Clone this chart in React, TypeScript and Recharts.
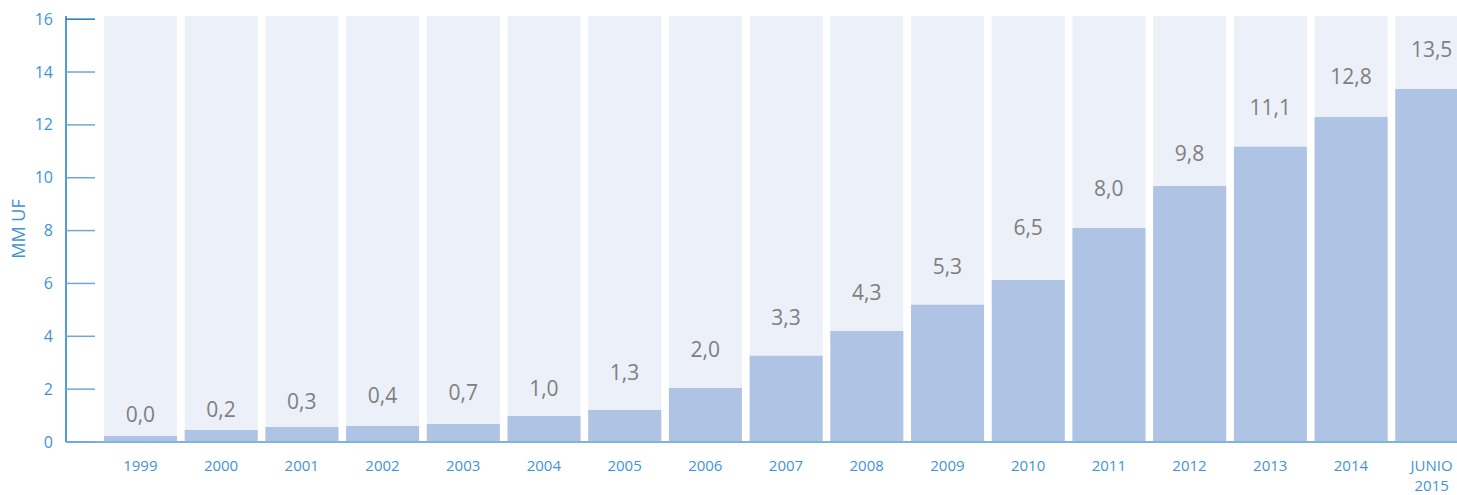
import { ComposedChart, Bar, Line, XAxis, YAxis, LabelList } from "recharts";

const categories = [
  "1999", "2000", "2001", "2002", "2003", "2004", "2005", "2006", "2007",
  "2008", "2009", "2010", "2011", "2012", "2013", "2014", "JUNIO 2015",
];
const valueLabels = [
  "0,0", "0,2", "0,3", "0,4", "0,7", "1,0", "1,3", "2,0", "3,3",
  "4,3", "5,3", "6,5", "8,0", "9,8", "11,1", "12,8", "13,5",
];
// bar heights as drawn (MM UF)
const barHeights = [
  0.23, 0.45, 0.57, 0.61, 0.68, 0.98, 1.21, 2.04, 3.26,
  4.2, 5.19, 6.13, 8.1, 9.69, 11.17, 12.3, 13.36,
];
// where each value label sits (MM UF)
const labelAt = [
  1.02, 1.21, 1.51, 1.74, 1.85, 2.01, 2.61, 3.48, 4.69,
  5.64, 6.62, 8.1, 9.58, 10.9, 12.64, 13.82, 14.84,
];
const yTicks = [0, 2, 4, 6, 8, 10, 12, 14, 16];

const data = categories.map((c, i) => ({
  year: c,
  value: barHeights[i],
  labelAt: labelAt[i],
  label: valueLabels[i],
}));

const FONT = "'Open Sans', 'Noto Sans', sans-serif";

const YTick = (props: any) => {
  const { x, y, payload } = props;
  const top = payload.value === 16;
  return (
    <g>
      <line x1={x} x2={x + 29} y1={y} y2={y} stroke={top ? "#1b7cc2" : "#6ea8d7"} strokeWidth={1.5} />
      <text x={x - 13} y={y} dy="0.35em" textAnchor="end" fill="#3f94d6" fontSize={16} fontFamily={FONT}>
        {payload.value}
      </text>
    </g>
  );
};

const XTick = (props: any) => {
  const { x, y, payload } = props;
  const lines = String(payload.value).split(" ");
  return (
    <g>
      {lines.map((l, i) => (
        <text key={i} x={x} y={y + 29 + i * 20} textAnchor="middle" fill="#3f94d6" fontSize={15} fontFamily={FONT}>
          {l}
        </text>
      ))}
    </g>
  );
};

const ValueLabel = (props: any) => {
  const { x, y, value } = props;
  return (
    <text x={x} y={y} dy="0.35em" textAnchor="middle" fill="#7f7f7f" fontSize={21} fontFamily={FONT}>
      {value}
    </text>
  );
};

const AxisTitle = (props: any) => {
  const { viewBox } = props;
  const cx = viewBox.x + 18;
  const cy = viewBox.y + viewBox.height / 2;
  return (
    <text
      x={cx}
      y={cy}
      transform={`rotate(-90 ${cx} ${cy})`}
      textAnchor="middle"
      dominantBaseline="central"
      fill="#3f94d6"
      fontSize={18}
      fontFamily={FONT}
    >
      MM UF
    </text>
  );
};

export default function App() {
  return (
    <div style={{ position: "fixed", left: 0, top: 0, width: 1457, height: 495, overflow: "hidden", background: "#fff" }}>
      <ComposedChart width={1472} height={495} data={data} margin={{ top: 16, right: 0, bottom: 0, left: 0 }}>
        <XAxis
          dataKey="year"
          padding={{ left: 34, right: 0 }}
          axisLine={{ stroke: "#7fb5dd", strokeWidth: 2 }}
          tickLine={false}
          tickSize={0}
          tickMargin={0}
          height={53}
          interval={0}
          tick={<XTick />}
        />
        <YAxis
          width={66}
          domain={[0, 16.12]}
          ticks={yTicks}
          allowDecimals={false}
          axisLine={{ stroke: "#1b7cc2", strokeWidth: 1.5 }}
          tickLine={false}
          tickSize={0}
          tickMargin={0}
          tick={<YTick />}
          label={<AxisTitle />}
        />
        <Bar
          dataKey="value"
          barSize={73}
          fill="#afc3e5"
          background={{ fill: "#ecf0f8" }}
          isAnimationActive={false}
        />
        <Line
          dataKey="labelAt"
          stroke="none"
          dot={false}
          activeDot={false}
          isAnimationActive={false}
        >
          <LabelList dataKey="label" content={<ValueLabel />} />
        </Line>
      </ComposedChart>
    </div>
  );
}
